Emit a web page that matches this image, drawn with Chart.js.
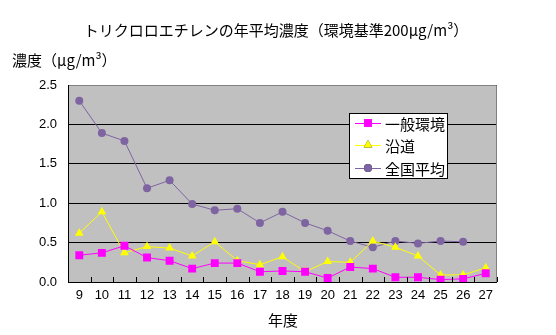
<!DOCTYPE html>
<html>
<head>
<meta charset="utf-8">
<script src="https://cdn.jsdelivr.net/npm/chart.js@4.4.1/dist/chart.umd.min.js"></script>
<style>
  html, body { margin: 0; padding: 0; background: #fff; }
  #wrap { width: 556px; height: 335px; }
</style>
</head>
<body>
<div id="wrap"><canvas id="chart" width="556" height="335"></canvas></div>
<script>
// 年度 (平成)
const years = ['9', '10', '11', '12', '13', '14', '15', '16', '17', '18', '19', '20', '21', '22', '23', '24', '25', '26', '27'];
// 一般環境
const general = [0.34, 0.37, 0.46, 0.31, 0.27, 0.17, 0.24, 0.24, 0.13, 0.14, 0.13, 0.05, 0.19, 0.17, 0.06, 0.06, 0.03, 0.04, 0.11];
// 沿道
const roadside = [0.62, 0.89, 0.37, 0.45, 0.43, 0.33, 0.51, 0.27, 0.22, 0.32, 0.13, 0.26, 0.25, 0.52, 0.44, 0.33, 0.09, 0.09, 0.18];
// 全国平均
const national = [2.30, 1.89, 1.79, 1.19, 1.29, 0.99, 0.91, 0.93, 0.75, 0.89, 0.75, 0.65, 0.52, 0.44, 0.52, 0.49, 0.52, 0.51, null];
const yTicks = [0, 0.5, 1.0, 1.5, 2.0, 2.5];

const titleText = 'トリクロロエチレンの年平均濃度（環境基準200μg/m³）';
const yTitleText = '濃度（μg/m³）';
const xTitleText = '年度';

const jpFont = '"Noto Sans CJK JP", "DejaVu Sans", sans-serif';

const textPlugin = {
    id: 'texts',
    beforeDraw(chart) {
        const { ctx, chartArea } = chart;
        ctx.save();
        ctx.fillStyle = '#c0c0c0';
        ctx.fillRect(chartArea.left, chartArea.top, chartArea.right - chartArea.left, chartArea.bottom - chartArea.top);
        ctx.restore();
    },
    afterDraw(chart) {
        const { ctx, chartArea } = chart;
        const x = chart.scales.x;
        ctx.save();
        // plot border
        ctx.strokeStyle = '#808080';
        ctx.lineWidth = 1;
        ctx.beginPath();
        ctx.moveTo(chartArea.left, chartArea.top + 0.5);
        ctx.lineTo(chartArea.right - 0.5, chartArea.top + 0.5);
        ctx.lineTo(chartArea.right - 0.5, chartArea.bottom);
        ctx.stroke();
        // axes
        ctx.strokeStyle = '#000';
        ctx.beginPath();
        ctx.moveTo(chartArea.left + 0.5, chartArea.top);
        ctx.lineTo(chartArea.left + 0.5, chartArea.bottom + 0.5);
        ctx.lineTo(chartArea.right, chartArea.bottom + 0.5);
        ctx.stroke();
        // inside tick marks between categories
        ctx.beginPath();
        for (let i = 0; i <= years.length; i++) {
            const px = Math.round(x.getPixelForValue(i - 0.5)) + 0.5;
            ctx.moveTo(px, chartArea.bottom);
            ctx.lineTo(px, chartArea.bottom - 5);
        }
        ctx.stroke();

        // titles
        ctx.fillStyle = '#000';
        ctx.textBaseline = 'middle';
        ctx.font = '15px ' + jpFont;
        ctx.textAlign = 'center';
        ctx.fillText(titleText, 276, 30);
        ctx.textAlign = 'left';
        ctx.fillText(yTitleText, 12, 60);
        ctx.textAlign = 'center';
        ctx.fillText(xTitleText, 283, 320);

        // legend
        const lx = 349, ly = 113, lw = 99, lh = 66;
        ctx.fillStyle = '#fff';
        ctx.fillRect(lx, ly, lw, lh);
        ctx.strokeStyle = '#000';
        ctx.strokeRect(lx + 0.5, ly + 0.5, lw - 1, lh - 1);
        const rows = [123, 145, 168];
        chart.data.datasets.forEach((ds, i) => {
            const ry = rows[i];
            ctx.strokeStyle = ds.borderColor;
            ctx.lineWidth = 1;
            ctx.beginPath();
            ctx.moveTo(355, ry + 0.5);
            ctx.lineTo(381, ry + 0.5);
            ctx.stroke();
            Chart.helpers.drawPoint(ctx, {
                pointStyle: ds.pointStyle,
                radius: ds.pointRadius,
                borderWidth: 0
            }, 368, ry);
            ctx.fillStyle = ds.pointBackgroundColor;
            ctx.fill();
            ctx.fillStyle = '#000';
            ctx.textAlign = 'left';
            ctx.font = '15px ' + jpFont;
            ctx.fillText(ds.label, 385, ry + 1);
        });
        ctx.restore();
    }
};

new Chart(document.getElementById('chart'), {
    type: 'line',
    data: {
        labels: years,
        datasets: [
            {
                label: '一般環境',
                data: general,
                borderColor: '#ff00ff',
                backgroundColor: '#ff00ff',
                pointBackgroundColor: '#ff00ff',
                pointBorderWidth: 0,
                pointStyle: 'rect',
                pointRadius: 5.6,
                borderWidth: 1
            },
            {
                label: '沿道',
                data: roadside,
                borderColor: '#ffff00',
                backgroundColor: '#ffff00',
                pointBackgroundColor: '#ffff00',
                pointBorderWidth: 0,
                pointStyle: 'triangle',
                pointRadius: 5,
                borderWidth: 1
            },
            {
                label: '全国平均',
                data: national,
                borderColor: '#7f64a2',
                backgroundColor: '#7f64a2',
                pointBackgroundColor: '#7f64a2',
                pointBorderWidth: 0,
                pointStyle: 'circle',
                pointRadius: 4,
                borderWidth: 1
            }
        ]
    },
    options: {
        responsive: false,
        animation: false,
        layout: { padding: { left: 0, top: 85, right: 59, bottom: 0 } },
        plugins: {
            legend: { display: false },
            title: { display: false },
            tooltip: { enabled: false }
        },
        scales: {
            x: {
                offset: true,
                grid: { display: false, drawTicks: false },
                border: { display: false },
                ticks: {
                    color: '#000',
                    padding: 6,
                    maxRotation: 0,
                    autoSkip: false,
                    font: { family: '"Liberation Sans", sans-serif', size: 13 }
                },
                afterFit: s => { s.height = 53; }
            },
            y: {
                min: 0,
                max: 2.5,
                afterBuildTicks: s => { s.ticks = yTicks.map(v => ({ value: v })); },
                grid: { color: '#000', lineWidth: 1, drawTicks: false },
                border: { display: false },
                ticks: {
                    color: '#000',
                    padding: 11,
                    font: { family: '"Liberation Sans", sans-serif', size: 13 },
                    callback: v => v.toFixed(1)
                },
                afterFit: s => { s.width = 68; }
            }
        }
    },
    plugins: [textPlugin]
});
</script>
</body>
</html>
